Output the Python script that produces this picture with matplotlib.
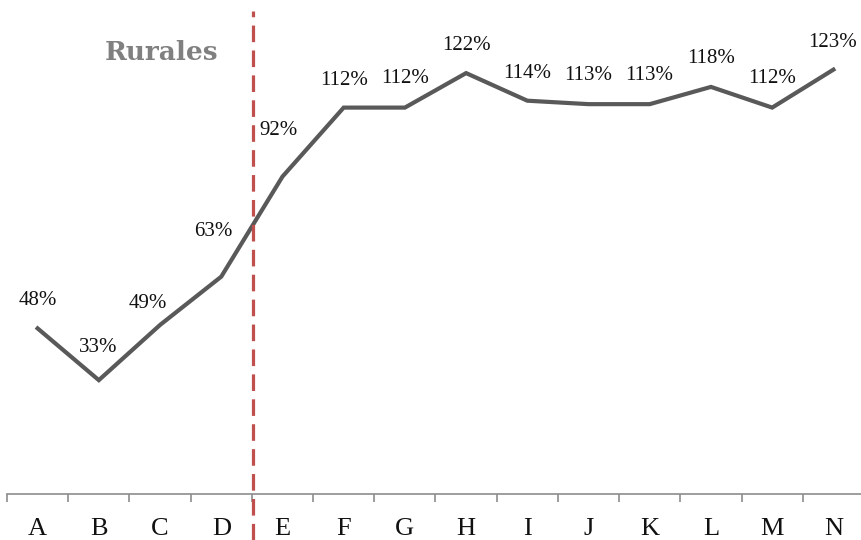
"""Rurales: index line by category, with a dashed break between D and E."""

import matplotlib
matplotlib.use("Agg")
import matplotlib.pyplot as plt
import numpy as np

categories = ["A", "B", "C", "D", "E", "F", "G", "H", "I", "J", "K", "L", "M", "N"]
values = [48, 33, 49, 63, 92, 112, 112, 122, 114, 113, 113, 118, 112, 123]
value_labels = ["48%", "33%", "49%", "63%", "92%", "112%", "112%", "122%",
                "114%", "113%", "113%", "118%", "112%", "123%"]

# label offsets in pixels (dx, dy) from each point
label_offsets = [(0, 28), (-1, 33), (-12, 21), (-8, 45), (-4, 46), (0, 27), (0, 29),
                 (0, 28), (0, 27), (0, 29), (-1, 29), (0, 28), (0, 29), (-1, 27)]

break_pos = 3.52

LINE = "#595959"
AXIS = "#8c8c8c"
RED = "#c0504d"

fig = plt.figure(figsize=(8.62, 5.40), dpi=100)
ax = fig.add_axes([7 / 862, 46 / 540, 857 / 862, 483 / 540])

x = np.arange(len(categories))
ax.plot(x, values, color=LINE, linewidth=3.0, solid_joinstyle="miter", zorder=3)

for xi, v, lab, (dx, dy) in zip(x, values, value_labels, label_offsets):
    ax.annotate(lab, (xi, v), xytext=(dx, dy), textcoords="offset pixels",
                ha="center", va="center", fontsize=15, family="Liberation Serif",
                color="#111111")

ax.axvline(break_pos, ymin=-46 / 483, ymax=1.0, color=RED, linewidth=2.3,
           dashes=(5.2, 2.6), clip_on=False, zorder=4)

ax.set_xlim(-0.5, len(categories) - 0.5)
ax.set_ylim(0, 140)

for side in ("top", "right", "left"):
    ax.spines[side].set_visible(False)
ax.spines["bottom"].set_color(AXIS)
ax.spines["bottom"].set_linewidth(1.2)
ax.set_yticks([])

ax.set_xticks(x)
ax.set_xticklabels(categories, fontsize=19, family="Liberation Serif", color="#111111")
ax.set_xticks(np.arange(-0.5, len(categories)), minor=True)
ax.tick_params(axis="x", which="major", length=0, pad=17)
ax.tick_params(axis="x", which="minor", length=6, width=1.2, color=AXIS, direction="out")

fig.text(162 / 862, 1 - 53 / 540, "Rurales", ha="center", va="center",
         fontsize=19, fontweight="bold", family="DejaVu Serif", color="#808080")

fig.savefig("out.png", dpi=100)
